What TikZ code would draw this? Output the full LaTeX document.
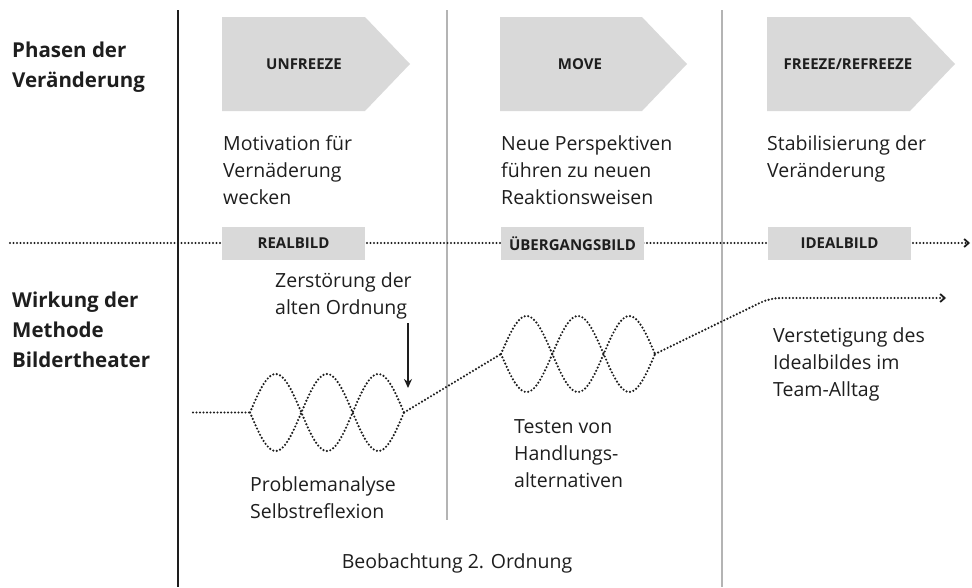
\documentclass[tikz,border=0pt]{standalone}
\usepackage{fontspec}
\setmainfont{Open Sans}
\usetikzlibrary{arrows.meta}

\definecolor{blockgray}{HTML}{D9D9D9}
\definecolor{linegray}{HTML}{B4B4B4}
\definecolor{ink}{HTML}{1E1E1E}

\tikzset{
  txt/.style={anchor=north west, inner sep=0pt, align=left, text=ink, font=\fontsize{19.5}{27}\selectfont},
  head/.style={anchor=north west, inner sep=0pt, align=left, text=ink, font=\fontsize{20.5}{30}\selectfont\bfseries},
  phase/.style={inner sep=0pt, text=ink, font=\fontsize{15}{18}\selectfont\bfseries},
  bild/.style={fill=blockgray, text=ink, minimum width=143pt, minimum height=33pt, inner sep=0pt, font=\fontsize{15}{18}\selectfont\bfseries},
  dots/.style={draw=ink, line width=2.4pt, line cap=round, dash pattern=on 0pt off 3.5pt},
  trenn/.style={draw=linegray, line width=2pt},
  spitze/.style={-{Straight Barb[length=4.5pt,width=8pt,line width=1.8pt]}},
}

\begin{document}
\begin{tikzpicture}[x=1pt,y=-1pt]
\useasboundingbox (0,0) rectangle (972,587);

% Spalten
\draw[ink, line width=2pt] (178,10) -- (178,587);
\draw[trenn] (447,10) -- (447,520);
\draw[trenn] (722,10) -- (722,587);

% Kopfzeilen links
\node[head] (phasen) at (12,42) {Phasen der\\Veränderung};
\node[head] (wirkung) at (12,292) {Wirkung der\\Methode\\Bildertheater};

% Phasenpfeile
\fill[blockgray] (222,17) -- (365,17) -- (410,64) -- (365,111) -- (222,111) -- cycle;
\fill[blockgray] (500,17) -- (642,17) -- (687,64) -- (642,111) -- (500,111) -- cycle;
\fill[blockgray] (767,17) -- (910,17) -- (955,64) -- (910,111) -- (767,111) -- cycle;
\node[phase] (unfreeze) at (304,64) {UNFREEZE};
\node[phase] (move) at (580,64) {MOVE};
\node[phase] (freeze) at (848,64) {FREEZE/REFREEZE};

\node[txt] (motiv) at (223,135) {Motivation für\\Vernäderung\\wecken};
\node[txt] (neue) at (501,135) {Neue Perspektiven\\führen zu neuen\\Reaktionsweisen};
\node[txt] (stabil) at (767,135) {Stabilisierung der\\Veränderung};

% Trennlinie mit Bildern
\coordinate (hl) at (10,243);
\coordinate (hr) at (970,243);
\draw[dots,spitze] (hl) -- (hr);
\node[bild] (real) at (293.5,243.5) {REALBILD};
\node[bild] (ueber) at (572.5,243.5) {ÜBERGANGSBILD};
\node[bild] (ideal) at (839.5,243.5) {IDEALBILD};

% Wellen
\coordinate (start) at (193,412.5);
\coordinate (w1l) at (250,412.5);
\coordinate (w1r) at (404,412.5);
\coordinate (w2l) at (501,354);
\coordinate (w2r) at (655,354);
\coordinate (knick) at (770,298);
\coordinate (ziel) at (946,298);
\draw[dots] plot[domain=0:3, samples=91, smooth] ({250+51.33*\x},{412.5+38.5*sin(180*\x)});
\draw[dots] plot[domain=0:3, samples=91, smooth] ({250+51.33*\x},{412.5-38.5*sin(180*\x)});
\draw[dots] plot[domain=0:3, samples=91, smooth] ({501+51.33*\x},{354+38*sin(180*\x)});
\draw[dots] plot[domain=0:3, samples=91, smooth] ({501+51.33*\x},{354-38*sin(180*\x)});
\draw[dots] (start) -- (w1l);
\draw[dots] (w1r) -- (w2l);
\draw[dots,spitze,rounded corners=10pt] (w2r) -- (knick) -- (ziel);

% Zerstoerung
\node[txt] (zer) at (275,272) {Zerstörung der\\alten Ordnung};
\coordinate (pintop) at (408,323);
\coordinate (pin) at (408,388);
\draw[ink, line width=2pt, -{Stealth[length=9pt,width=8pt]}] (pintop) -- (pin);

\node[txt] (problem) at (250,476) {Problemanalyse\\Selbstreflexion};
\node[txt] (testen) at (514,419) {Testen von\\Handlungs-\\alternativen};
\node[txt] (verst) at (773,327) {Verstetigung des\\Idealbildes im\\Team-Alltag};
\node[anchor=base, inner sep=0pt, text=ink, font=\fontsize{19.5}{27}\selectfont] (beob) at (457,568) {Beobachtung 2. Ordnung};
\end{tikzpicture}
\end{document}
